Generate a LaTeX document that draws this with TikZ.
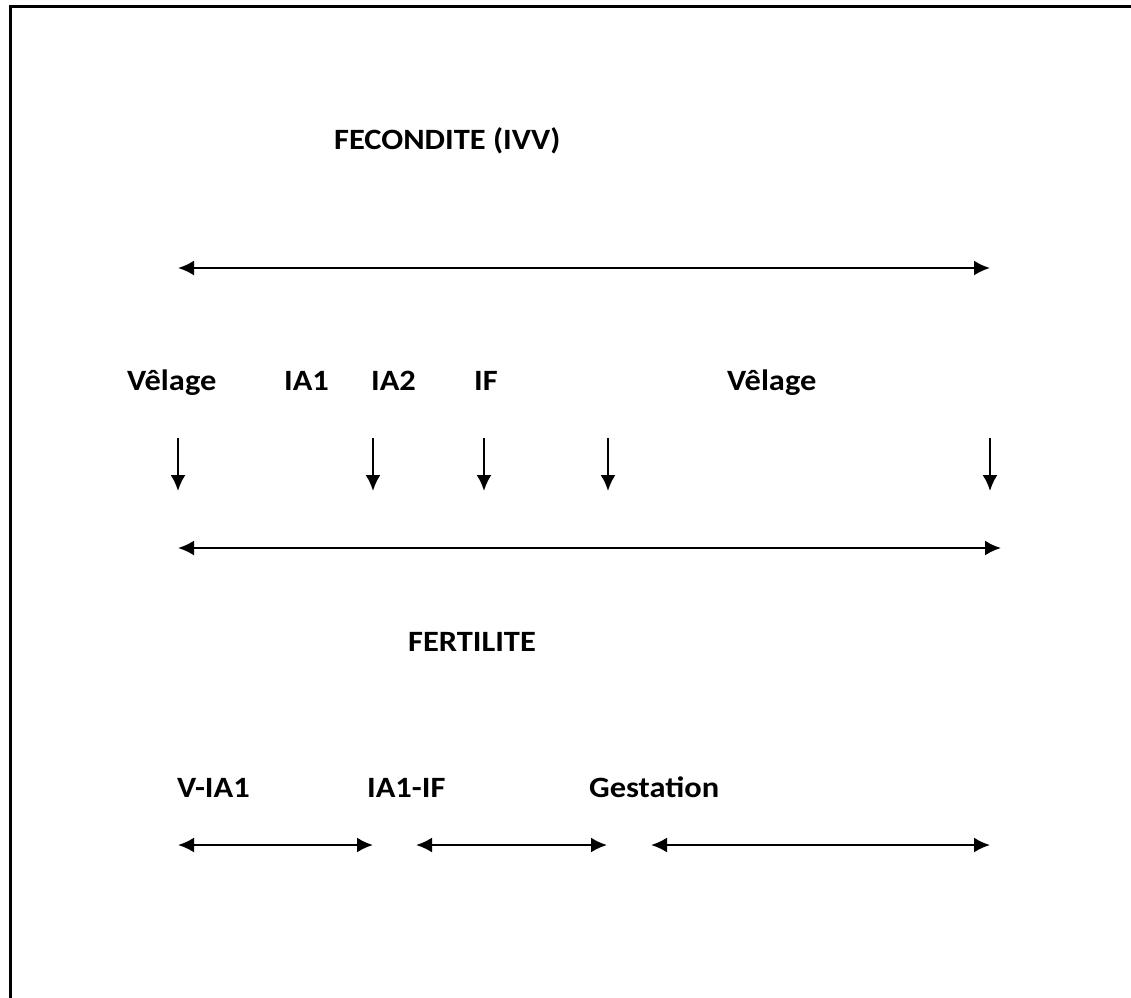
\documentclass[tikz,border=0pt]{standalone}
\usepackage{fontspec}
\setmainfont{Carlito}[FakeStretch=1.1]
\usetikzlibrary{arrows.meta}

\begin{document}
\begin{tikzpicture}[x=1pt, y=-1pt, line width=2.3pt,
    lbl/.style={anchor=base west, inner sep=0pt, font=\fontsize{29.5}{35}\selectfont\bfseries},
    both/.style={{Latex[length=16pt,width=15pt]}-{Latex[length=16pt,width=15pt]}},
    down/.style={-{Latex[length=16pt,width=15pt]}}]
            \useasboundingbox (0,0) rectangle (1131,997);
            \draw[line width=2.5pt] (10.3,1010) -- (10.3,6.7) -- (1140,6.7);

            % fecondite
            \node[lbl] (fec) at (333,149) {FECONDITE (IVV)};
            \coordinate (IVVa) at (178,268);
            \coordinate (IVVb) at (990,268);
            \draw[both] (IVVa) -- (IVVb);

            \node[lbl] (vel1) at (126,390) {Vêlage};
            \node[lbl] (ia1) at (283,390) {IA1};
            \node[lbl] (ia2) at (370,390) {IA2};
            \node[lbl] (if) at (473,390) {IF};
            \node[lbl] (vel2) at (726,390) {Vêlage};

            \foreach \x/\n in {178/1, 373/2, 484/3, 608/4, 990/5} {
                \coordinate (d\n) at (\x,438);
                \coordinate (e\n) at (\x,491);
                \draw[down] (d\n) -- (e\n);
            }

            \coordinate (Ta) at (178,548);
            \coordinate (Tb) at (1001,548);
            \draw[both] (Ta) -- (Tb);

            % fertilite
            \node[lbl] (fer) at (407,651) {FERTILITE};
            \node[lbl] (via) at (176,797) {V-IA1};
            \node[lbl] (iaf) at (366,797) {IA1-IF};
            \node[lbl] (ges) at (588,797) {Gestation};

            \coordinate (Pa) at (178,845);
            \coordinate (Pb) at (373,845);
            \coordinate (Qa) at (416,845);
            \coordinate (Qb) at (607,845);
            \coordinate (Ra) at (651,845);
            \coordinate (Rb) at (990,845);
            \draw[both] (Pa) -- (Pb);
            \draw[both] (Qa) -- (Qb);
            \draw[both] (Ra) -- (Rb);
        \end{tikzpicture}
\end{document}
